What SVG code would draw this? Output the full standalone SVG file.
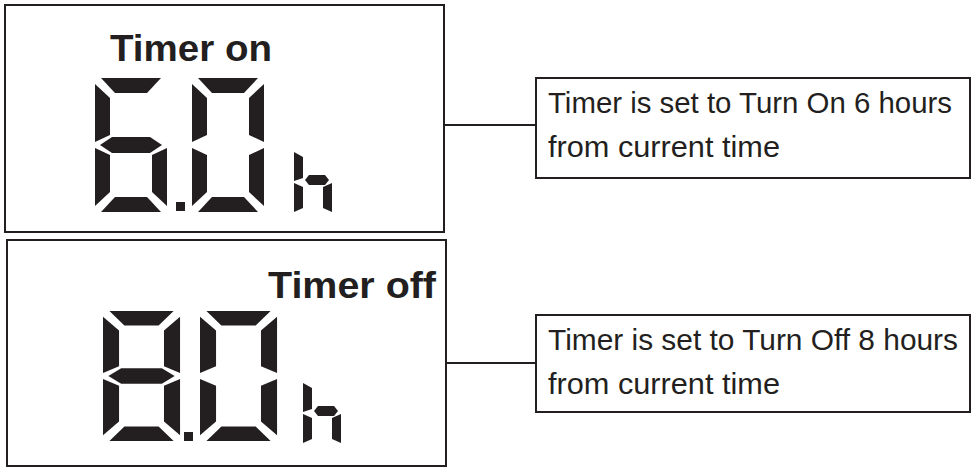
<svg xmlns="http://www.w3.org/2000/svg" width="978" height="473" viewBox="0 0 978 473">
<style>
.box{fill:#fff;stroke:#231f20;stroke-width:2}
.seg{fill:#231f20}
.big{font-family:"Liberation Sans",Arial,sans-serif;font-weight:bold;font-size:37px;fill:#231f20}
.lbl{font-family:"Liberation Sans",Arial,sans-serif;font-size:29px;fill:#231f20}
.con{stroke:#231f20;stroke-width:2;fill:none}
</style>
<defs>
<polygon id="sa" points="6,0 66,0 52,15 20,15"/>
<polygon id="sf" points="0,6 15,20 15,57 0,64"/>
<polygon id="sb" points="72,6 72,64 57,57 57,20"/>
<polygon id="sg" points="5,67 17,59 55,59 67,67 55,75 17,75"/>
<polygon id="se" points="0,70 15,77 15,114 0,128"/>
<polygon id="sc" points="72,70 72,128 57,114 57,77"/>
<polygon id="sd" points="6,134 66,134 52,119 20,119"/>
<g id="h">
<polygon points="0,0 9,5 9,26 0,29"/>
<polygon points="0,31 9,35 9,56 0,60"/>
<polygon points="11,28 15,23 31,23 35,28 31,33 15,33"/>
<polygon points="38,31 38,60 29,56 29,35"/>
</g>
</defs>
<rect class="box" x="5" y="5" width="439" height="227"/>
<rect class="box" x="7" y="240" width="439" height="226"/>
<g id="connectors">
<line class="con" x1="444" y1="125" x2="536" y2="125"/>
<line class="con" x1="446" y1="363" x2="536" y2="363"/>
</g>
<g id="display-on">
<text class="big" x="110" y="61" textLength="162" lengthAdjust="spacingAndGlyphs">Timer on</text>
<g class="seg" transform="translate(95,78)"><use href="#sa"/><use href="#sf"/><use href="#sg"/><use href="#se"/><use href="#sc"/><use href="#sd"/></g>
<rect class="seg" x="176" y="202" width="9" height="9"/>
<g class="seg" transform="translate(192,78)"><use href="#sa"/><use href="#sf"/><use href="#sb"/><use href="#se"/><use href="#sc"/><use href="#sd"/></g>
<use class="seg" href="#h" transform="translate(294,152)"/>
</g>
<g id="display-off">
<text class="big" x="436" y="298" text-anchor="end" textLength="168" lengthAdjust="spacingAndGlyphs">Timer off</text>
<g class="seg" transform="translate(103,311) scale(1.07,0.97)"><use href="#sa"/><use href="#sf"/><use href="#sb"/><use href="#sg"/><use href="#se"/><use href="#sc"/><use href="#sd"/></g>
<rect class="seg" x="184" y="432" width="9" height="9"/>
<g class="seg" transform="translate(200,311) scale(1.07,0.97)"><use href="#sa"/><use href="#sf"/><use href="#sb"/><use href="#se"/><use href="#sc"/><use href="#sd"/></g>
<use class="seg" href="#h" transform="translate(303,383)"/>
</g>
<g id="note-on">
<rect class="box" x="536" y="78" width="434" height="100"/>
<text class="lbl" x="548" y="113" textLength="404" lengthAdjust="spacingAndGlyphs">Timer is set to Turn On 6 hours</text>
<text class="lbl" x="548" y="157" textLength="232" lengthAdjust="spacingAndGlyphs">from current time</text>
</g>
<g id="note-off">
<rect class="box" x="536" y="315" width="434" height="97"/>
<text class="lbl" x="548" y="350" textLength="410" lengthAdjust="spacingAndGlyphs">Timer is set to Turn Off 8 hours</text>
<text class="lbl" x="548" y="394" textLength="232" lengthAdjust="spacingAndGlyphs">from current time</text>
</g>
</svg>
